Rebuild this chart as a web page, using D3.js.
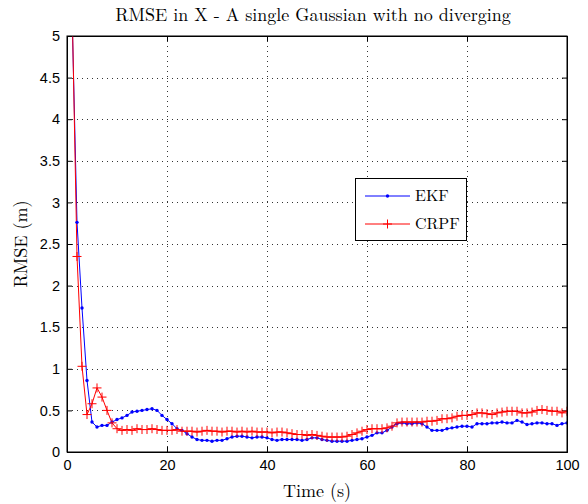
<!DOCTYPE html>
<html><head><meta charset="utf-8">
<script src="https://cdn.jsdelivr.net/npm/d3@7"></script>
<style>body{margin:0;background:#fff}svg{display:block}text{font-family:"Latin Modern Roman","CMU Serif","DejaVu Serif","Liberation Serif",serif}.tk text{font-family:"Liberation Sans",Arial,Helvetica,sans-serif}</style>
</head><body>
<script>
const times = d3.range(0, 101);
const ekf = [8.0,5.30,2.76,1.73,0.86,0.36,0.30,0.32,0.32,0.36,
0.39,0.41,0.44,0.48,0.49,0.50,0.51,0.52,0.50,0.44,
0.39,0.34,0.28,0.26,0.22,0.18,0.15,0.14,0.14,0.13,
0.14,0.14,0.16,0.18,0.19,0.19,0.18,0.17,0.18,0.18,
0.17,0.15,0.14,0.15,0.15,0.15,0.15,0.14,0.15,0.17,
0.17,0.15,0.14,0.13,0.13,0.13,0.13,0.14,0.15,0.16,
0.18,0.20,0.23,0.23,0.26,0.30,0.34,0.35,0.34,0.34,
0.35,0.34,0.30,0.26,0.26,0.26,0.28,0.29,0.30,0.31,
0.31,0.30,0.34,0.34,0.34,0.35,0.35,0.36,0.35,0.35,
0.38,0.36,0.33,0.34,0.35,0.35,0.34,0.34,0.32,0.34,0.35];
const crpf = [8.0,5.43,2.35,1.03,0.45,0.58,0.77,0.66,0.50,0.35,
0.28,0.26,0.27,0.26,0.28,0.27,0.27,0.28,0.27,0.26,
0.26,0.26,0.27,0.25,0.25,0.25,0.24,0.25,0.26,0.25,
0.25,0.24,0.25,0.25,0.24,0.25,0.24,0.25,0.24,0.24,
0.24,0.23,0.24,0.24,0.23,0.22,0.21,0.21,0.20,0.21,
0.20,0.19,0.18,0.18,0.18,0.18,0.19,0.21,0.23,0.25,
0.27,0.28,0.28,0.28,0.29,0.31,0.35,0.36,0.36,0.36,
0.36,0.36,0.37,0.37,0.38,0.40,0.40,0.41,0.43,0.44,
0.44,0.45,0.47,0.47,0.46,0.45,0.47,0.48,0.49,0.49,
0.49,0.47,0.47,0.48,0.50,0.51,0.50,0.49,0.49,0.47,0.49];
const xTicks = [0,20,40,60,80,100];
const yTicks = [0,0.5,1,1.5,2,2.5,3,3.5,4,4.5,5];
const seriesNames = ["EKF","CRPF"];
const title = "RMSE in X - A single Gaussian with no diverging";

const W=588,H=504, L=67,R=567,T=36,B=452;
const svg=d3.select("body").append("svg").attr("width",W).attr("height",H);
const x=d3.scaleLinear().domain([0,100]).range([L,R]);
const y=d3.scaleLinear().domain([0,5]).range([B,T]);

// grid
const grid=svg.append("g").attr("stroke","#333").attr("stroke-width",1).attr("stroke-dasharray","1,4");
xTicks.slice(1,-1).forEach(t=>grid.append("line").attr("x1",x(t)+0.5).attr("x2",x(t)+0.5).attr("y1",T).attr("y2",B));
yTicks.slice(1,-1).forEach(t=>grid.append("line").attr("y1",Math.round(y(t))+0.5).attr("y2",Math.round(y(t))+0.5).attr("x1",L).attr("x2",R));

// axes
const fs=14.5;
const ax=svg.append("g").attr("class","tk").attr("transform",`translate(0,${B})`).call(d3.axisBottom(x).tickValues(xTicks).tickSize(-5).tickPadding(8).tickFormat(d3.format("d")));
const axT=svg.append("g").attr("class","tk").attr("transform",`translate(0,${T})`).call(d3.axisTop(x).tickValues(xTicks).tickSize(-5).tickFormat(""));
const ay=svg.append("g").attr("class","tk").attr("transform",`translate(${L},0)`).call(d3.axisLeft(y).tickValues(yTicks).tickSize(-5).tickPadding(7).tickFormat(d=>String(d)));
const ayR=svg.append("g").attr("class","tk").attr("transform",`translate(${R},0)`).call(d3.axisRight(y).tickValues(yTicks).tickSize(-5).tickFormat(""));
[ax,axT,ay,ayR].forEach(g=>{g.attr("font-family",null);g.select(".domain").attr("stroke","#000");g.selectAll("line").attr("stroke","#000");g.selectAll("text").attr("font-size",fs).attr("fill","#000");});

// clip
svg.append("clipPath").attr("id","c").append("rect").attr("x",L).attr("y",T).attr("width",R-L).attr("height",B-T);
const plot=svg.append("g").attr("clip-path","url(#c)");
const line=d3.line().x((d,i)=>x(times[i])).y(d=>y(d));
plot.append("path").datum(ekf).attr("d",line).attr("fill","none").attr("stroke","#0000ff").attr("stroke-width",1);
plot.append("path").datum(crpf).attr("d",line).attr("fill","none").attr("stroke","#ff0000").attr("stroke-width",1);
plot.selectAll(".e").data(ekf).enter().append("circle").attr("cx",(d,i)=>x(times[i])).attr("cy",d=>y(d)).attr("r",1.7).attr("fill","#0000ff");
const ps=4.5;
plot.selectAll(".p").data(crpf).enter().append("path")
 .attr("d",(d,i)=>{const cx=x(times[i]),cy=y(d);return `M${cx-ps},${cy}H${cx+ps}M${cx},${cy-ps}V${cy+ps}`;})
 .attr("stroke","#ff0000").attr("stroke-width",1).attr("fill","none");

// frame on top
svg.append("rect").attr("x",L).attr("y",T).attr("width",R-L).attr("height",B-T).attr("fill","none").attr("stroke","#000").attr("stroke-width",1);

// title & labels
svg.append("text").attr("x",313).attr("y",21).attr("text-anchor","middle").attr("font-size",18).text(title);
svg.append("text").attr("x",(L+R)/2).attr("y",497).attr("text-anchor","middle").attr("font-size",18).text("Time (s)");
svg.append("text").attr("transform",`translate(27,${(T+B)/2}) rotate(-90)`).attr("text-anchor","middle").attr("font-size",18).text("RMSE (m)");

// legend
const lg=svg.append("g");
lg.append("rect").attr("x",355.5).attr("y",178.5).attr("width",111).attr("height",62).attr("fill","#fff").attr("stroke","#000");
const cols=["#0000ff","#ff0000"];
seriesNames.forEach((n,i)=>{
  const yy=196+i*28;
  lg.append("line").attr("x1",365).attr("x2",410).attr("y1",yy).attr("y2",yy).attr("stroke",cols[i]);
  if(i===0) lg.append("circle").attr("cx",387.5).attr("cy",yy).attr("r",1.7).attr("fill",cols[i]);
  else lg.append("path").attr("d",`M${387.5-ps},${yy}H${387.5+ps}M387.5,${yy-ps}V${yy+ps}`).attr("stroke",cols[i]);
  lg.append("text").attr("x",415).attr("y",yy+5).attr("font-size",16).text(n);
});
</script>
</body></html>
